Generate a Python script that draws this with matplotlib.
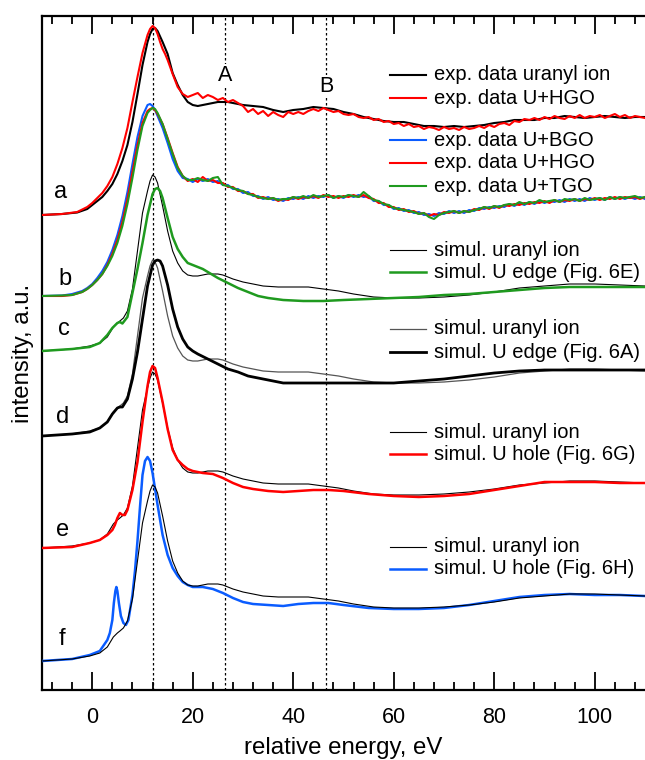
import numpy as np
import matplotlib
matplotlib.use("Agg")
import matplotlib.pyplot as plt
from matplotlib.ticker import MultipleLocator

plt.rcParams['font.family'] = ['Liberation Sans', 'DejaVu Sans']

# ---------------- data (relative energy in eV, intensity in a.u., stacked) ----------------
tail_energy = list(range(19, 111))

# (a) experimental: uranyl ion (black) and U+HGO (red)
exp_uranyl_x = [-10, -6, -3, -1, 0, 1, 2, 3, 4, 5, 6, 7, 8, 9, 10, 11, 11.5, 12, 12.5, 13,
                14, 15, 16, 17, 18, 19, 20, 21, 22, 23, 24, 25, 26, 27, 28,
                30, 32, 34, 36, 38, 40, 42, 44, 46, 48, 50, 52, 54, 56, 58, 60, 62, 64, 66, 68,
                70, 72, 74, 76, 78, 80, 82, 84, 86, 88, 90, 92, 94, 96, 98, 100, 102, 104, 106, 108, 110]
exp_uranyl_y = [475, 476, 477.5, 481, 485, 489, 493, 499, 506, 516, 529, 545, 568, 596, 625, 648, 656, 661, 662, 659,
                648, 636, 617, 605, 595, 588, 585, 584, 585, 586, 587, 588, 588, 588, 587,
                585, 584, 583, 580, 578, 580, 581, 583, 582, 581, 578, 576, 573, 571, 569, 568, 568, 566, 564, 564,
                563, 564, 563, 564, 565, 567, 568, 570, 570, 570, 572, 572, 574, 573, 572, 573, 574, 573, 572, 573, 573]

exp_a_hgo_rise_x = [-10, -6, -3, -1, 0, 1, 2, 3, 4, 5, 6, 7, 8, 9, 10, 11, 11.5, 12, 12.5, 13, 13.5,
                    14, 14.5, 15, 16, 17, 18]
exp_a_hgo_rise_y = [475, 476, 478, 483, 487, 492, 497, 504, 513, 526, 542, 562, 588, 613, 637, 655, 661, 664, 662, 656, 648,
                    641, 636, 630, 616, 603, 596]
exp_a_hgo_tail_y = [593, 595, 597, 592, 595, 593, 590, 592, 588, 590,
                    587, 584, 578, 581, 576, 579, 574, 578, 575, 573,
                    578, 576, 578, 576, 579, 581, 579, 582, 580, 578,
                    579, 576, 575, 576, 573, 572, 573, 570, 571, 568,
                    569, 566, 567, 564, 566, 563, 564, 561, 563, 562,
                    560, 563, 561, 562, 560, 563, 561, 562, 564, 562,
                    565, 563, 566, 567, 565, 569, 568, 571, 570, 572,
                    570, 573, 571, 574, 572, 571, 574, 572, 575, 572,
                    574, 573, 575, 572, 574, 576, 573, 575, 572, 574,
                    573, 572]

# (b) experimental: U+BGO (blue), U+HGO (red), U+TGO (green)
exp_b_rise_x = [-10, -6, -4, -2, -1, 0, 1, 2, 3, 4, 5, 6, 7, 8, 9, 10, 11, 11.5, 12, 12.5, 13, 14, 15, 16, 17, 18]
exp_b_bgo_rise_y = [394, 394.5, 396, 399, 402, 406, 412, 419, 428, 440, 455, 474, 498, 526, 553, 574, 585, 586, 584, 580,
                    574, 562, 547, 531, 519, 512]
exp_b_hgo_rise_y = [394, 394, 395, 398, 401, 405, 410, 416, 425, 436, 450, 468, 491, 518, 545, 567, 579, 581, 582, 580,
                    576, 566, 552, 537, 523, 514]
exp_b_tgo_rise_y = [394, 394.5, 395, 398, 401, 405, 410, 416, 424, 434, 447, 464, 486, 512, 540, 564, 577, 580, 582, 581,
                    577, 566, 551, 536, 522, 514]
exp_b_bgo_tail_y = [511, 508, 511, 509, 511, 508, 509, 505, 505, 501,
                    501, 497, 498, 494, 494, 491, 493, 490, 491, 489,
                    492, 491, 493, 491, 494, 492, 494, 493, 495, 492,
                    494, 492, 495, 493, 495, 493, 494, 489, 489, 485,
                    485, 481, 482, 479, 480, 477, 478, 475, 476, 474,
                    477, 476, 479, 477, 479, 477, 480, 479, 482, 481,
                    483, 482, 484, 483, 486, 484, 487, 485, 488, 486,
                    489, 487, 489, 488, 490, 488, 491, 489, 491, 489,
                    492, 490, 492, 490, 493, 491, 493, 491, 493, 491,
                    493, 491]
exp_b_hgo_tail_y = [509, 511, 508, 513, 509, 510, 507, 507, 503, 503,
                    499, 499, 496, 496, 492, 493, 491, 492, 489, 491,
                    490, 493, 491, 493, 492, 494, 492, 495, 493, 494,
                    492, 494, 493, 495, 493, 495, 492, 491, 487, 487,
                    483, 483, 480, 481, 478, 479, 476, 477, 474, 476,
                    475, 478, 477, 479, 477, 479, 478, 481, 480, 483,
                    481, 484, 482, 485, 484, 486, 485, 487, 486, 488,
                    487, 489, 487, 490, 488, 490, 489, 491, 489, 491,
                    490, 492, 490, 492, 491, 493, 491, 493, 492, 493,
                    491, 493]
exp_b_tgo_tail_y = [510, 510, 512, 510, 509, 512, 513, 505, 504, 502,
                    500, 499, 496, 495, 493, 492, 491, 492, 490, 491,
                    491, 493, 492, 494, 492, 495, 493, 494, 495, 492,
                    494, 493, 495, 494, 493, 498, 494, 490, 489, 486,
                    485, 482, 481, 480, 479, 478, 476, 477, 473, 471,
                    475, 477, 478, 479, 477, 479, 478, 480, 481, 483,
                    482, 484, 483, 485, 486, 485, 488, 486, 488, 487,
                    490, 488, 489, 490, 488, 491, 490, 491, 489, 492,
                    490, 491, 492, 490, 493, 491, 493, 492, 493, 494,
                    492, 493]

# simulated spectra, intensity relative to the baseline of each stacked panel
panel_offsets = {'c': 339, 'd': 254, 'e': 142, 'f': 29}

sim_uranyl_x = [-10, -4, -0.5, 1.5, 3, 4.2, 5, 5.5, 6.2, 7, 8, 9, 10, 11, 11.5, 12, 12.5, 13, 14, 15,
                16, 17, 18, 19, 20, 21, 22, 23, 24, 25, 26, 27, 28, 30, 32, 34, 37, 40, 43, 46,
                49, 52, 56, 60, 65, 70, 75, 80, 85, 90, 95, 100, 105, 110]
sim_uranyl_y = [0, 2, 5, 8, 14, 24, 28, 30, 33, 40, 62, 100, 138, 160, 170, 176, 174, 168, 145, 120,
                100, 88, 80, 76, 75, 75, 76, 77, 77, 77, 76, 74, 72, 69, 67, 65, 64, 64, 64, 62,
                60, 57, 54, 53, 53, 54, 56, 59, 63, 65, 67, 67, 66, 65]

sim_edge6E_x = [-10, -4, -0.5, 1.5, 3, 4, 5, 5.5, 6, 7, 8, 9, 10, 11, 12, 12.5, 13, 13.5, 14, 15,
                16, 17, 18, 19, 20, 21, 22, 23, 25, 27, 29, 31, 33, 35, 38, 42, 46, 50, 55, 60,
                65, 70, 75, 80, 85, 90, 95, 100, 105, 110]
sim_edge6E_y = [0, 2, 4, 8, 16, 23, 28, 29, 27.5, 34, 58, 82, 108, 136, 157, 162, 163, 160, 153, 133,
                114, 102, 94, 88, 86, 84, 82, 79, 73, 68, 63, 59, 55, 53, 51, 50, 50, 51, 52, 53,
                54, 56, 57, 59, 61, 63, 64, 64, 64, 64]

sim_edge6A_x = [-10, -4, -0.5, 1.5, 3, 4, 5, 5.5, 6, 7, 8, 9, 10, 11, 12, 12.5, 13, 13.5, 14, 15,
                16, 17, 18, 19, 20, 21, 23, 25, 27, 29, 31, 33, 35, 38, 42, 46, 50, 55, 60, 65,
                70, 75, 80, 85, 90, 95, 100, 105, 110]
sim_edge6A_y = [0, 2, 4, 8, 14, 22, 28, 29, 29, 37, 57, 84, 117, 150, 171, 175, 176, 175, 170, 151,
                127, 109, 97, 89, 85, 82, 77, 72, 67, 64, 60, 58, 56, 53, 53, 53, 53, 53, 53, 55,
                57, 60, 63, 65, 66, 66, 66, 66, 66]

sim_hole6G_x = [-10, -4, -0.5, 1.5, 3, 4, 4.5, 5, 5.5, 6, 6.5, 7, 8, 9, 10, 11, 11.5, 12, 12.5, 13,
                14, 15, 16, 17, 18, 19, 20, 22, 24, 26, 28, 30, 32, 35, 38, 41, 44, 47, 50, 55,
                60, 65, 70, 75, 80, 85, 90, 95, 100, 105, 110]
sim_hole6G_y = [0, 1, 5, 8, 13, 18, 23, 30, 35, 33, 33, 38, 58, 86, 126, 162, 176, 182, 180, 170,
                146, 119, 98, 88, 83, 79, 77, 75, 74, 70, 65, 61, 59, 57, 56, 57, 58, 58, 57, 54,
                52, 51, 52, 54, 58, 62, 66, 66, 66, 65, 65]

sim_hole6H_x = [-10, -4, -0.5, 1.5, 3, 3.5, 4, 4.3, 4.6, 4.8, 5.0, 5.3, 5.7, 6.2, 6.7, 7.2, 8, 8.5, 9, 9.5,
                10, 10.5, 11, 11.5, 12, 12.5, 13, 14, 15, 16, 17, 18, 19, 20, 22, 24, 26, 28, 30, 32,
                35, 38, 41, 44, 47, 50, 55, 60, 65, 70, 75, 80, 85, 90, 95, 100, 105, 110]
sim_hole6H_y = [0, 2, 6, 10, 21, 28, 41, 58, 70, 74, 70, 58, 45, 38, 36, 41, 66, 90, 120, 154,
                186, 200, 204, 200, 188, 172, 156, 126, 106, 93, 85, 79, 76, 74, 74, 72, 68, 63, 59, 57,
                56, 55, 57, 58, 58, 56, 53, 52, 52, 53, 56, 60, 64, 66, 67, 66, 66, 65]

feature_energies = [12, 26.5, 46.5]
feature_labels = ['', 'A', 'B']
panel_letters = ['a', 'b', 'c', 'd', 'e', 'f']

# ---------------- figure ----------------
W, H = 645, 760
fig = plt.figure(figsize=(W / 100, H / 100), dpi=100)
ax = fig.add_axes([42 / W, 70 / H, 603 / W, 674 / H])

RED = '#ff0000'
BLUE = '#0a5cff'
GREEN = '#1f9a1f'
GRAY = '#555555'

for e in feature_energies:
    ax.axvline(e, color='black', lw=0.9, ls=(0, (2, 2)), zorder=1)

# panel a
ax.plot(exp_uranyl_x, exp_uranyl_y, color='black', lw=1.5, zorder=3)
ax.plot(exp_a_hgo_rise_x + tail_energy, exp_a_hgo_rise_y + exp_a_hgo_tail_y, color=RED, lw=1.5, zorder=4)

# panel b
bx = exp_b_rise_x + tail_energy
ax.plot(bx, exp_b_bgo_rise_y + exp_b_bgo_tail_y, color=BLUE, lw=1.5, zorder=3)
ax.plot(bx, exp_b_hgo_rise_y + exp_b_hgo_tail_y, color=RED, lw=1.5, zorder=4)
ax.plot(bx, exp_b_tgo_rise_y + exp_b_tgo_tail_y, color=GREEN, lw=1.5, zorder=5)

u = np.array(sim_uranyl_y, dtype=float)
# panel c
ax.plot(sim_uranyl_x, u + panel_offsets['c'], color='black', lw=0.8, zorder=3)
ax.plot(sim_edge6E_x, np.array(sim_edge6E_y) + panel_offsets['c'], color=GREEN, lw=1.8, zorder=4)
# panel d
ax.plot(sim_uranyl_x, u + panel_offsets['d'], color=GRAY, lw=0.9, zorder=3)
ax.plot(sim_edge6A_x, np.array(sim_edge6A_y) + panel_offsets['d'], color='black', lw=2.0, zorder=4)
# panel e
ax.plot(sim_uranyl_x, u + panel_offsets['e'], color='black', lw=0.8, zorder=3)
ax.plot(sim_hole6G_x, np.array(sim_hole6G_y) + panel_offsets['e'], color=RED, lw=1.8, zorder=4)
# panel f
ax.plot(sim_uranyl_x, u + panel_offsets['f'], color='black', lw=0.8, zorder=4)
ax.plot(sim_hole6H_x, np.array(sim_hole6H_y) + panel_offsets['f'], color=BLUE, lw=1.8, zorder=3)

# feature labels A, B
for e, lab, yb in zip(feature_energies[1:], feature_labels[1:], [609, 598]):
    ax.text(e, yb, lab, fontsize=15.5, ha='center', va='baseline', zorder=6,
            bbox=dict(facecolor='white', edgecolor='none', pad=0.5))

# panel letters
for lab, lx, ly in zip(panel_letters, [-6.3, -5.5, -5.7, -5.9, -5.9, -6.1], [492, 405, 355, 267, 154, 45]):
    ax.text(lx, ly, lab, fontsize=17, ha='center', va='baseline')

# legends (drawn as keys + text in axes fraction)
def key(py, color, lw, label):
    y = (690 - py) / 674
    x0, x1, xt = (390 - 42) / 603, (426 - 42) / 603, (434 - 42) / 603
    ax.plot([x0, x1], [y, y], transform=ax.transAxes, color=color, lw=lw, clip_on=False)
    ax.text(xt, y, label, transform=ax.transAxes, fontsize=14.5, ha='left', va='center')

key(75, 'black', 1.5, 'exp. data uranyl ion')
key(98, RED, 1.5, 'exp. data U+HGO')
key(140, BLUE, 1.5, 'exp. data U+BGO')
key(163, RED, 1.5, 'exp. data U+HGO')
key(186, GREEN, 1.5, 'exp. data U+TGO')
key(250, 'black', 0.8, 'simul. uranyl ion')
key(272, GREEN, 1.8, 'simul. U edge (Fig. 6E)')
key(329, GRAY, 0.9, 'simul. uranyl ion')
key(352, 'black', 2.0, 'simul. U edge (Fig. 6A)')
key(432, 'black', 0.8, 'simul. uranyl ion')
key(454, RED, 1.8, 'simul. U hole (Fig. 6G)')
key(547, 'black', 0.8, 'simul. uranyl ion')
key(569, BLUE, 1.8, 'simul. U hole (Fig. 6H)')

ax.set_xlim(-10, 110)
ax.set_ylim(0, 674)
ax.xaxis.set_major_locator(MultipleLocator(20))
ax.xaxis.set_minor_locator(MultipleLocator(4))
ax.tick_params(axis='x', which='both', direction='in', top=True, bottom=True, width=1.3, labelsize=15.5, pad=12)
ax.tick_params(axis='x', which='major', length=13)
ax.tick_params(axis='x', which='minor', length=6)
ax.set_yticks([])
for s in ['left', 'bottom', 'top']:
    ax.spines[s].set_linewidth(1.6)
ax.spines['right'].set_visible(False)

ax.set_xlabel('relative energy, eV', fontsize=17.3, labelpad=7)
ax.set_ylabel('intensity, a.u.', fontsize=17.3, labelpad=6)

fig.savefig('out.png', dpi=100)
